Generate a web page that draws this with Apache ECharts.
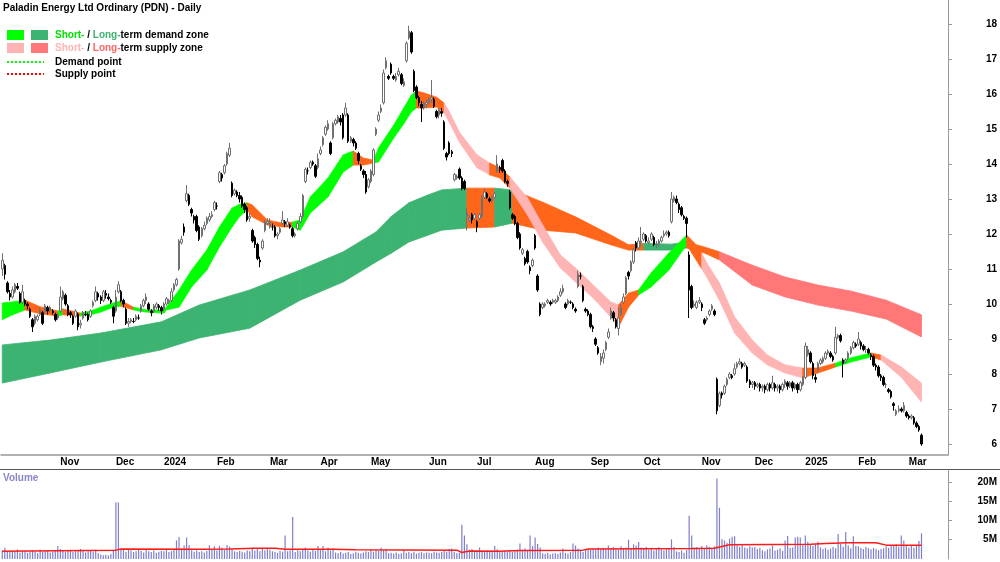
<!DOCTYPE html>
<html>
<head>
<meta charset="utf-8">
<script src="https://cdn.jsdelivr.net/npm/echarts@6/dist/echarts.min.js"></script>
<style>html,body{margin:0;padding:0;background:#fff}#chart{width:1000px;height:562px}</style>
</head>
<body>
<div id="chart"></div>
<script>
// month start slots on the x axis (trading-day index) and their labels
var monthTicks = [[23,'Nov'],[45,'Dec'],[64,'2024'],[85,'Feb'],[106,'Mar'],[126,'Apr'],[146,'May'],[169,'Jun'],[188,'Jul'],[211,'Aug'],[233,'Sep'],[254,'Oct'],[277,'Nov'],[298,'Dec'],[318,'2025'],[339,'Feb'],[359,'Mar']];
var slotCount = 375;
var priceTicks = [6,7,8,9,10,11,12,13,14,15,16,17,18];
var volumeTicks = [5,10,15,20];

// daily candles [open, close, low, high]
var candles = [
[11.0,11.25,10.8,11.45],[11.1,10.85,10.7,11.15],[10.6,10.35,10.3,10.65],[10.3,10.2,10.1,10.4],[10.2,10.4,10.15,10.5],[10.35,10.55,10.3,10.6],[10.5,10.45,10.4,10.6],[10.3,10.05,10.0,10.35],[10.05,10.35,10.0,10.55],[10.1,10.0,9.95,10.15],
[10.0,9.95,9.85,10.05],[9.85,9.65,9.6,9.9],[9.55,9.35,9.2,9.6],[9.45,9.65,9.4,9.7],[9.55,9.65,9.5,9.7],[9.7,9.85,9.65,9.9],[9.75,9.45,9.4,9.8],[9.8,9.95,9.75,10.0],[9.9,9.8,9.7,9.95],[9.8,9.9,9.75,9.95],
[9.8,9.75,9.7,9.85],[9.7,9.55,9.5,9.75],[9.6,9.7,9.55,9.75],[9.8,10.2,9.75,10.5],[10.15,10.35,10.1,10.4],[10.25,10.0,9.95,10.3],[9.95,9.7,9.65,10.0],[9.75,9.7,9.6,9.8],[9.65,9.45,9.4,9.7],[9.65,9.8,9.6,9.85],
[9.7,9.35,9.25,9.75],[9.4,9.45,9.3,9.55],[9.6,9.75,9.55,9.8],[9.7,9.7,9.65,9.8],[9.7,9.55,9.5,9.75],[9.65,9.8,9.6,9.85],[9.95,10.05,9.9,10.1],[10.1,10.35,10.05,10.5],[10.3,10.2,10.1,10.35],[10.2,10.1,10.0,10.25],
[10.1,10.35,10.05,10.4],[10.3,10.25,10.15,10.4],[10.2,10.15,10.1,10.3],[10.1,10.05,10.0,10.15],[9.9,9.65,9.45,9.95],[9.8,10.2,9.75,10.4],[10.35,10.55,10.3,10.65],[10.35,10.1,10.05,10.4],[10.1,10.0,9.9,10.15],[9.85,9.45,9.4,9.9],
[9.45,9.5,9.35,9.6],[9.5,9.55,9.45,9.6],[9.5,9.5,9.45,9.6],[9.55,9.65,9.5,9.7],[9.6,9.6,9.55,9.7],[9.8,9.95,9.75,10.0],[9.95,10.1,9.9,10.15],[10.1,10.2,10.0,10.3],[10.0,9.85,9.8,10.05],[9.8,9.75,9.65,9.85],
[9.8,9.95,9.75,10.0],[9.9,10.0,9.85,10.05],[9.95,9.9,9.8,10.0],[9.9,9.8,9.7,9.95],[9.85,10.0,9.8,10.05],[10.0,10.15,9.95,10.2],[10.05,10.1,10.0,10.15],[10.1,10.35,10.05,10.45],[10.4,10.55,10.35,10.6],[10.55,10.7,10.5,10.75],
[11.0,11.8,10.95,11.85],[11.75,11.85,11.7,11.95],[12.2,12.05,11.95,12.3],[12.95,13.15,12.9,13.4],[13.1,12.85,12.8,13.15],[12.7,12.6,12.5,12.75],[12.5,12.4,12.3,12.55],[12.5,12.1,12.05,12.55],[12.2,11.85,11.8,12.25],[11.95,12.15,11.9,12.2],
[12.15,12.25,12.1,12.35],[12.3,12.45,12.25,12.5],[12.4,12.5,12.35,12.6],[12.5,12.55,12.45,12.65],[12.7,12.9,12.65,12.95],[12.8,12.8,12.7,12.9],[13.5,13.75,13.45,13.8],[13.7,13.6,13.5,13.75],[13.75,13.95,13.7,14.0],[14.0,14.3,13.95,14.35],
[14.25,14.45,14.2,14.6],[13.45,13.1,13.05,13.5],[13.15,13.25,13.1,13.3],[13.2,13.1,13.05,13.25],[13.1,13.0,12.9,13.2],[13.05,12.8,12.75,13.1],[12.85,12.7,12.6,12.9],[12.75,12.4,12.35,12.8],[12.45,12.5,12.35,12.6],[12.1,11.8,11.75,12.15],
[11.9,11.7,11.6,11.95],[11.7,11.3,11.25,11.75],[11.25,11.2,11.05,11.35],[11.6,11.8,11.55,11.85],[12.1,12.35,12.05,12.4],[12.3,12.35,12.25,12.45],[12.2,12.35,12.15,12.45],[12.2,12.2,12.1,12.3],[12.2,11.95,11.9,12.25],[11.95,12.0,11.85,12.05],
[12.05,12.15,12.0,12.2],[12.3,12.4,12.25,12.65],[12.35,12.3,12.2,12.4],[12.25,12.35,12.2,12.45],[12.25,12.2,12.15,12.3],[12.15,11.95,11.9,12.2],[11.95,12.0,11.9,12.05],[12.15,12.3,12.1,12.35],[12.35,12.5,12.3,12.6],[12.5,13.1,12.45,13.15],
[13.5,13.85,13.45,13.9],[13.8,13.8,13.7,13.9],[13.9,14.05,13.85,14.1],[14.05,14.0,13.95,14.1],[13.95,13.65,13.6,14.0],[13.9,14.15,13.85,14.3],[14.3,14.4,14.25,14.5],[14.55,14.75,14.5,14.8],[14.85,15.05,14.8,15.1],[15.0,15.15,14.95,15.25],
[14.6,14.3,14.25,14.65],[14.75,15.15,14.7,15.2],[15.15,15.25,15.1,15.3],[15.2,15.35,15.15,15.4],[15.3,15.2,15.1,15.4],[15.4,14.75,14.7,15.45],[15.4,15.6,15.35,15.75],[15.4,14.65,14.6,15.45],[14.65,14.75,14.6,14.8],[14.7,14.6,14.5,14.75],
[14.6,14.45,14.4,14.65],[14.3,14.1,14.0,14.35],[13.95,13.85,13.8,14.0],[13.8,13.7,13.6,13.85],[13.7,13.2,13.15,13.8],[13.35,13.55,13.3,13.6],[13.5,13.8,13.45,13.85],[13.7,14.4,13.65,14.45],[14.85,15.0,14.8,15.05],[15.25,15.4,15.2,15.5],
[15.5,15.6,15.45,15.7],[15.75,16.6,15.7,16.7],[16.75,16.95,16.7,17.05],[16.5,16.45,16.4,16.55],[16.85,16.6,16.55,16.9],[16.5,16.45,16.4,16.55],[16.4,16.5,16.35,16.6],[16.55,16.65,16.5,16.75],[16.55,16.3,16.25,16.6],[16.25,16.35,16.2,16.45],
[16.95,17.45,16.9,17.5],[17.6,17.8,17.55,17.95],[17.75,17.2,17.15,17.8],[16.65,16.1,16.05,16.7],[16.2,15.9,15.85,16.25],[15.9,15.75,15.65,15.95],[15.7,15.6,15.2,15.8],[15.6,15.75,15.55,15.8],[15.7,15.75,15.6,15.85],[15.75,15.85,15.7,15.9],
[15.85,15.9,15.75,16.4],[15.85,15.65,15.6,15.9],[15.5,15.35,15.3,15.55],[15.4,15.55,15.3,15.6],[15.5,15.45,15.35,15.6],[15.2,14.45,14.4,15.25],[14.3,14.2,14.1,14.35],[14.6,14.3,14.25,14.65],[14.35,14.3,14.2,14.4],[13.55,13.7,13.5,13.75],
[13.6,13.65,13.55,13.7],[13.85,13.6,13.55,13.9],[13.6,13.3,13.25,13.65],[13.5,13.3,13.25,13.55],[12.5,12.6,12.1,12.75],[12.4,12.45,12.35,12.55],[12.55,12.4,12.3,12.6],[12.45,12.55,12.4,12.6],[12.35,12.2,12.05,12.4],[12.45,12.55,12.4,12.6],
[12.5,13.05,12.45,13.1],[13.05,13.2,13.0,13.3],[13.15,13.05,13.0,13.2],[13.0,12.95,12.9,13.05],[12.95,13.05,12.9,13.1],[13.05,13.15,13.0,13.2],[13.8,14.0,13.75,14.25],[13.9,13.85,13.75,13.95],[14.1,13.8,13.75,14.15],[13.8,13.5,13.45,13.85],
[13.5,13.45,13.35,13.55],[13.2,12.75,12.7,13.25],[12.55,12.45,12.4,12.6],[12.5,12.3,12.25,12.55],[12.3,11.9,11.85,12.35],[12.0,11.6,11.55,12.05],[11.45,11.55,11.4,11.6],[11.3,11.15,11.1,11.35],[11.5,11.2,11.15,11.55],[11.05,10.95,10.85,11.1],
[11.1,11.25,11.05,11.3],[11.95,11.6,11.55,12.0],[10.8,10.4,10.35,10.85],[10.0,9.7,9.65,10.05],[9.9,10.0,9.85,10.05],[9.95,10.0,9.9,10.05],[10.05,10.1,10.0,10.15],[10.05,10.0,9.95,10.1],[10.05,10.1,10.0,10.15],[10.05,10.1,10.0,10.15],
[10.1,10.2,10.05,10.25],[10.25,10.35,10.2,10.45],[10.35,10.45,10.3,10.55],[10.0,9.9,9.85,10.05],[10.0,10.1,9.95,10.15],[10.05,10.05,10.0,10.1],[10.0,9.9,9.85,10.05],[9.85,9.8,9.75,9.9],[10.5,10.85,10.45,10.95],[10.8,10.8,10.7,10.9],
[10.5,10.1,10.05,10.55],[9.85,9.8,9.75,9.9],[9.8,9.7,9.65,9.85],[9.7,9.35,9.3,9.75],[9.35,9.3,9.2,9.4],[9.0,8.85,8.8,9.05],[8.75,8.6,8.55,8.8],[8.35,8.5,8.25,8.6],[8.45,8.6,8.3,8.7],[8.7,8.9,8.65,8.95],
[9.05,9.2,9.0,9.3],[9.6,9.8,9.55,9.9],[9.75,9.6,9.5,9.8],[9.55,9.35,9.3,9.6],[9.3,9.6,9.1,9.9],[9.7,9.9,9.65,10.0],[10.05,10.2,10.0,10.3],[10.3,10.75,10.25,10.8],[10.9,10.8,10.7,10.95],[10.95,11.2,10.9,11.25],
[11.2,11.55,11.15,11.6],[11.75,11.6,11.5,11.8],[11.6,11.8,11.55,11.9],[11.75,11.8,11.65,12.2],[11.85,12.0,11.8,12.05],[11.95,11.8,11.75,12.0],[11.75,11.8,11.7,11.9],[11.85,12.0,11.8,12.05],[11.9,11.7,11.65,11.95],[11.7,11.7,11.6,11.8],
[11.7,11.8,11.65,11.85],[11.8,11.9,11.75,11.95],[11.95,12.0,11.9,12.1],[12.0,12.05,11.95,12.1],[12.05,11.95,11.9,12.1],[12.35,13.0,12.3,13.2],[12.95,13.05,12.9,13.1],[13.0,12.9,12.85,13.1],[12.85,12.7,12.6,12.9],[12.75,12.55,12.5,12.8],
[12.5,12.45,12.4,12.55],[12.45,12.3,11.9,12.5],[11.4,10.4,9.6,11.5],[10.5,9.9,9.85,10.55],[9.95,10.0,9.9,10.1],[9.9,10.05,9.85,10.1],[10.05,10.1,10.0,10.2],[10.0,9.9,9.8,10.05],[9.55,9.45,9.4,9.6],[9.55,9.6,9.5,9.65],
[9.7,9.8,9.65,9.85],[9.85,9.95,9.8,10.0],[9.8,9.7,9.65,9.85],[7.85,6.95,6.85,7.9],[7.1,7.45,7.05,7.5],[7.45,7.4,7.3,7.5],[7.45,7.65,7.4,7.7],[7.7,7.85,7.65,7.9],[7.9,8.0,7.85,8.05],[7.95,7.9,7.85,8.0],
[8.0,8.15,7.95,8.3],[8.2,8.3,8.15,8.35],[8.3,8.35,8.25,8.45],[8.3,8.2,8.15,8.35],[8.25,8.3,8.2,8.35],[8.2,7.8,7.75,8.25],[7.8,7.7,7.6,7.85],[7.7,7.75,7.6,7.8],[7.75,7.65,7.55,7.8],[7.65,7.7,7.6,7.75],
[7.7,7.6,7.5,7.75],[7.6,7.65,7.5,7.7],[7.65,7.55,7.45,7.7],[7.55,7.7,7.5,7.75],[7.7,7.6,7.5,7.75],[7.6,7.75,7.55,7.95],[7.7,7.6,7.5,7.75],[7.6,7.65,7.5,7.7],[7.65,7.55,7.45,7.7],[7.55,7.7,7.5,7.75],
[7.7,7.8,7.6,7.85],[7.75,7.65,7.55,7.8],[7.65,7.75,7.6,7.8],[7.75,7.6,7.5,7.8],[7.6,7.7,7.55,7.75],[7.7,7.55,7.45,7.75],[7.55,7.75,7.5,7.8],[7.7,7.9,7.65,7.95],[7.9,8.8,7.85,8.9],[8.55,8.7,8.5,8.8],
[8.6,8.35,8.3,8.65],[8.3,7.95,7.85,8.35],[7.9,7.85,7.75,8.0],[8.1,8.3,8.05,8.35],[8.3,8.4,8.25,8.45],[8.35,8.45,8.3,8.5],[8.45,8.6,8.4,8.65],[8.6,8.65,8.55,8.7],[8.6,8.5,8.45,8.65],[8.5,8.4,8.35,8.55],
[8.6,9.05,8.55,9.35],[9.05,9.1,9.0,9.15],[9.1,8.95,8.9,9.15],[8.4,8.3,7.9,8.45],[8.35,8.4,8.3,8.45],[8.45,8.6,8.4,8.65],[8.6,8.75,8.55,8.8],[8.75,8.9,8.7,8.95],[8.85,8.8,8.75,8.9],[8.85,9.0,8.8,9.2],
[8.9,8.8,8.7,8.95],[8.8,8.7,8.65,8.85],[8.7,8.7,8.6,8.8],[8.7,8.6,8.55,8.75],[8.55,8.5,8.4,8.6],[8.5,8.25,8.2,8.55],[8.25,8.2,8.1,8.3],[8.2,7.95,7.9,8.25],[7.95,7.9,7.8,8.0],[7.9,7.7,7.65,7.95],
[7.7,7.7,7.6,7.75],[7.55,7.5,7.45,7.6],[7.5,7.35,7.3,7.55],[7.15,7.1,6.95,7.2],[6.85,6.95,6.8,7.0],[6.95,7.0,6.9,7.1],[7.0,6.95,6.9,7.05],[6.95,7.1,6.9,7.2],[6.9,6.8,6.75,6.95],[6.8,6.75,6.7,6.85],
[6.75,6.8,6.7,6.85],[6.75,6.6,6.55,6.8],[6.6,6.5,6.45,6.65],[6.5,6.4,6.35,6.55],[6.25,6.0,5.95,6.3]
];

// daily volume, millions of shares
var volumes = [
2.3,2.9,2.0,1.8,2.2,1.9,2.5,1.7,2.0,2.1,1.6,2.0,2.2,1.8,1.5,2.4,1.9,2.0,2.2,1.7,1.9,2.1,3.4,
2.6,2.2,1.9,2.1,2.4,1.8,2.0,2.3,2.6,2.1,1.7,2.0,2.2,1.9,2.4,1.5,1.2,1.0,1.1,0.9,1.3,2.2,
14.7,14.7,2.6,2.3,1.9,2.5,2.2,1.8,2.0,2.6,2.1,1.7,2.4,2.0,1.8,2.2,1.6,1.9,2.1,
2.0,2.3,1.8,2.1,2.4,4.8,5.7,2.7,3.5,5.6,3.6,2.3,1.9,2.2,1.8,2.0,1.7,2.1,3.6,2.4,3.3,
2.2,3.4,3.0,2.3,3.6,3.2,2.5,2.0,1.8,2.1,1.9,1.7,2.2,2.0,3.0,2.2,2.8,2.0,2.7,2.3,2.7,
2.4,2.0,1.8,1.6,2.1,1.9,6.1,2.0,2.2,10.9,1.8,2.3,2.0,2.5,3.0,2.2,1.9,2.4,2.1,3.4,
2.3,3.4,2.0,3.0,2.2,2.8,1.7,1.5,1.9,1.4,1.6,1.8,1.3,1.5,1.9,1.6,1.4,1.7,2.0,1.8,
2.6,1.9,2.4,2.1,3.0,2.2,2.6,1.5,1.6,1.4,1.7,1.3,1.5,2.4,1.6,1.8,1.5,1.9,1.4,1.6,1.8,1.5,1.7,
1.6,1.5,1.9,1.7,1.6,1.8,2.3,1.9,2.6,2.7,1.8,1.5,1.6,8.9,6.1,3.8,2.4,2.6,2.1,
2.2,3.0,2.1,1.9,2.3,2.0,2.2,3.4,2.5,2.0,1.8,2.1,1.9,2.2,1.8,2.0,2.4,4.0,2.1,2.7,2.3,6.1,3.4,
5.6,3.9,3.0,1.5,1.3,1.6,1.2,1.4,1.5,1.3,1.7,2.7,1.6,1.4,1.8,4.0,3.5,2.7,2.2,1.8,2.3,2.6,
2.4,2.8,2.5,3.0,2.6,2.9,2.5,3.5,2.7,3.1,2.6,2.4,3.3,2.8,3.0,5.0,2.6,3.8,3.5,4.4,3.0,
2.6,3.1,2.4,2.9,2.2,2.7,3.1,2.5,2.3,2.8,2.6,5.1,3.1,2.0,1.8,2.2,1.6,2.4,11.2,6.1,2.9,3.1,2.7,
3.4,2.8,3.6,3.2,2.9,3.3,20.9,13.3,5.1,4.8,4.2,5.3,5.8,5.9,3.6,3.2,3.9,3.0,2.8,3.3,3.0,
3.1,2.6,2.9,2.3,2.0,2.5,2.7,3.5,2.2,2.4,2.8,2.1,4.8,6.0,2.9,3.0,5.6,5.8,5.6,3.6,
6.1,4.5,3.8,3.4,3.9,4.5,3.0,2.6,2.9,2.4,2.7,3.1,2.8,6.5,3.9,3.2,7.0,3.5,2.8,5.9,3.4,
3.3,2.9,2.6,3.1,2.8,2.5,2.9,2.6,2.3,2.6,2.8,3.3,2.9,3.4,3.5,3.8,3.2,6.1,4.8,3.4,
3.0,3.6,2.9,3.4,4.7,6.7
];

// volume moving average, read at [slot, millions]
var volumeAvg = [[0,2.0],[45,2.3],[47,2.6],[79,2.5],[90,2.6],[100,2.8],[108,2.8],[112,2.5],[131,2.5],[140,2.4],[180,2.3],[182,1.7],[185,2.1],[197,2.0],[205,2.2],[230,2.3],[232,2.6],[273,2.7],[282,2.8],[288,3.7],[320,3.8],[326,4.0],[335,4.2],[346,4.2],[350,3.6],[364,3.6]];

// zone ribbons: [slot, lower, upper, zone of the stretch that starts here]
var shortBand = [
[0,9.55,10.03,'sd'],[4,9.69,10.06,'sd'],[9,9.83,10.11,'n'],[15,9.72,9.92,'n'],[22,9.66,9.8,'sd'],[24,9.69,9.86,'n'],[31,9.66,9.74,'sd'],[35,9.69,9.8,'sd'],
[39,9.77,9.91,'sd'],[44,9.91,10.03,'sd'],[47,9.94,10.09,'n'],[52,9.83,9.91,'sd'],[57,9.77,9.83,'sd'],[64,9.74,9.83,'sd'],[65,9.83,9.91,'sd'],[70,9.91,10.4,'sd'],
[75,10.49,10.97,'sd'],[81,10.97,11.54,'sd'],[86,11.63,12.2,'sd'],[91,12.2,12.74,'sd'],[94,12.5,12.85,'sd'],[97,12.69,12.89,'n'],[99,12.49,12.83,'n'],[105,12.26,12.4,'n'],[111,12.2,12.31,'n'],
[115,12.2,12.34,'sd'],[118,12.11,12.4,'sd'],[122,12.6,13.06,'sd'],[129,13.06,13.6,'sd'],[135,13.77,14.26,'sd'],[139,13.97,14.37,'n'],[143,13.97,14.17,'n'],[147,14.03,14.11,'sd'],
[149,14.06,14.46,'sd'],[155,14.74,15.11,'sd'],[159,15.15,15.6,'sd'],[162,15.49,15.97,'sd'],[164,15.6,16.09,'n'],[167,15.6,16.03,'n'],[172,15.63,15.91,'n'],[175,15.46,15.74,'ss'],[177,15.2,15.49,'ss'],
[181,14.63,14.91,'ss'],[188,13.89,14.26,'ss'],[193,13.69,14.03,'n'],[197,13.6,13.89,'n'],[201,13.31,13.63,'ss'],[208,12.54,13.03,'ss'],[214,11.77,12.26,'ss'],[221,11.03,11.4,'ss'],
[227,10.63,11.03,'ss'],[234,10.17,10.54,'ss'],[241,9.63,10.06,'ss'],[244,9.34,9.97,'n'],[248,9.91,10.31,'n'],[252,10.26,10.4,'sd'],[257,10.49,10.89,'sd'],[264,10.97,11.46,'sd'],
[271,11.69,11.97,'n'],[274,11.35,11.75,'n'],[277,11.0,11.45,'ss'],[279,10.77,11.17,'ss'],[284,10.11,10.6,'ss'],[290,9.17,9.63,'ss'],[297,8.6,8.97,'ss'],[303,8.26,8.54,'ss'],
[310,8.03,8.26,'ss'],[317,7.89,8.17,'n'],[323,8.03,8.17,'n'],[330,8.2,8.31,'sd'],[336,8.34,8.46,'sd'],[344,8.49,8.6,'n'],[348,8.4,8.54,'ss'],[356,7.91,8.2,'ss'],[364,7.2,7.74,'ss']
];
var longBand = [
[0,7.74,8.83,'ld'],[19,8.03,8.97,'ld'],[39,8.34,9.17,'ld'],[63,8.69,9.49,'ld'],[78,9.03,9.97,'ld'],[98,9.31,10.4,'ld'],[118,10.11,10.97,'ld'],[135,10.63,11.49,'ld'],
[148,11.2,12.06,'ld'],[154,11.45,12.5,'ld'],[161,11.77,12.89,'ld'],[168,11.95,13.1,'ld'],[174,12.11,13.26,'ld'],[184,12.17,13.31,'n'],[195,12.2,13.31,'ld'],[202,12.31,13.26,'n'],[214,12.11,12.91,'n'],[227,12.03,12.49,'n'],
[241,11.69,11.97,'n'],[248,11.54,11.69,'n'],[254,11.54,11.73,'ld'],[265,11.54,11.71,'ld'],[271,11.6,11.77,'n'],[278,11.46,11.63,'n'],[284,11.26,11.49,'ls'],[297,10.54,11.11,'ls'],
[310,10.2,10.77,'ls'],[323,9.97,10.54,'ls'],[336,9.8,10.37,'ls'],[350,9.57,10.11,'ls'],[364,9.06,9.69,'ls']
];

var zoneColors = {sd:'#00ff00', ld:'#3cb371', ss:'#ffb4b4', ls:'#ff7777', n:'#ff661a'};

// one quadrilateral per stretch between two neighbouring knots
function ribbonSeries(name, knots) {
    var data = [];
    for (var k = 0; k < knots.length - 1; k++) {
        var a = knots[k], b = knots[k + 1];
        data.push([a[0], a[1], a[2], b[0], b[1], b[2]]);
    }
    return {
        name: name, type: 'custom', xAxisIndex: 0, yAxisIndex: 0, silent: true, z: 1,
        data: data,
        encode: {x: [0, 3], y: [1, 2, 4, 5]},
        renderItem: function (params, api) {
            var p1 = api.coord([api.value(0), api.value(1)]);
            var p2 = api.coord([api.value(0), api.value(2)]);
            var p3 = api.coord([api.value(3), api.value(5)]);
            var p4 = api.coord([api.value(3), api.value(4)]);
            var col = zoneColors[knots[params.dataIndex][3]];
            return {
                type: 'polygon',
                shape: {points: [p1, p2, p3, p4]},
                style: {fill: col, stroke: col, lineWidth: 0.8}
            };
        }
    };
}

var slots = [];
for (var s = 0; s < slotCount; s++) slots.push(s);
var tickSet = {};
monthTicks.forEach(function (m) { tickSet[m[0]] = m[1]; });

var fontFamily = '"Liberation Sans", Arial, sans-serif';
var boldFont = 'bold 10px ' + fontFamily;

var myChart = echarts.init(document.getElementById('chart'), null, {renderer: 'canvas'});
var option = {
    animation: false,
    backgroundColor: '#fff',
    grid: [
        {left: 1, right: 50, top: 0, height: 455},
        {left: 1, right: 50, top: 470, bottom: 3}
    ],
    xAxis: [
        {
            type: 'category', gridIndex: 0, data: slots, boundaryGap: true,
            axisLine: {lineStyle: {color: '#999', width: 1.5}},
            axisTick: {length: 3, lineStyle: {color: '#999'}, interval: function (i) { return tickSet[i] !== undefined; }},
            axisLabel: {
                interval: function (i) { return tickSet[i] !== undefined; },
                formatter: function (v) { return tickSet[v] || ''; },
                align: 'left', margin: 2,
                fontFamily: fontFamily, fontWeight: 'bold', fontSize: 10, color: '#000'
            },
            splitLine: {show: false}
        },
        {
            type: 'category', gridIndex: 1, data: slots, boundaryGap: true,
            axisLine: {show: false}, axisTick: {show: false}, axisLabel: {show: false}, splitLine: {show: false}
        }
    ],
    yAxis: [
        {
            type: 'value', gridIndex: 0, position: 'right', min: 5.6857, max: 18.6857,
            axisLine: {show: true, lineStyle: {color: '#999'}},
            axisTick: {show: true, length: 4, customValues: priceTicks, lineStyle: {color: '#999'}},
            axisLabel: {customValues: priceTicks, align: 'right', margin: 49,
                fontFamily: fontFamily, fontWeight: 'bold', fontSize: 10, color: '#000'},
            splitLine: {show: false}
        },
        {
            type: 'value', gridIndex: 1, position: 'right', min: 0, max: 23.1,
            axisLine: {show: true, lineStyle: {color: '#999'}},
            axisTick: {show: true, length: 4, customValues: volumeTicks, lineStyle: {color: '#999'}},
            axisLabel: {customValues: volumeTicks, align: 'right', margin: 49,
                formatter: function (v) { return v + 'M'; },
                fontFamily: fontFamily, fontWeight: 'bold', fontSize: 10, color: '#000'},
            splitLine: {show: false}
        }
    ],
    graphic: [
        {type: 'text', left: 3, top: 3, style: {text: 'Paladin Energy Ltd Ordinary (PDN) - Daily', font: boldFont, fill: '#000'}},
        {type: 'rect', shape: {x: 7, y: 30, width: 17, height: 10}, style: {fill: zoneColors.sd}},
        {type: 'rect', shape: {x: 31, y: 30, width: 17, height: 10}, style: {fill: zoneColors.ld}},
        {type: 'rect', shape: {x: 7, y: 43, width: 17, height: 10}, style: {fill: zoneColors.ss}},
        {type: 'rect', shape: {x: 31, y: 43, width: 17, height: 10}, style: {fill: zoneColors.ls}},
        {type: 'line', shape: {x1: 7, y1: 62, x2: 44, y2: 62}, style: {stroke: '#00ff00', lineWidth: 2, lineDash: [2, 2]}},
        {type: 'line', shape: {x1: 7, y1: 74, x2: 44, y2: 74}, style: {stroke: '#ff0000', lineWidth: 2, lineDash: [2, 2]}},
        {type: 'text', left: 55, top: 30, style: {
            text: '{g|Short-}{k| / }{l|Long-}{k|term demand zone}',
            rich: {
                g: {fill: '#00e000', font: boldFont},
                l: {fill: '#3cb371', font: boldFont},
                k: {fill: '#000', font: boldFont}
            }}},
        {type: 'text', left: 55, top: 43, style: {
            text: '{p|Short-}{k| / }{r|Long-}{k|term supply zone}',
            rich: {
                p: {fill: '#ffb4b4', font: boldFont},
                r: {fill: '#ff6666', font: boldFont},
                k: {fill: '#000', font: boldFont}
            }}},
        {type: 'text', left: 55, top: 57, style: {text: 'Demand point', font: boldFont, fill: '#000'}},
        {type: 'text', left: 55, top: 69, style: {text: 'Supply point', font: boldFont, fill: '#000'}},
        {type: 'text', left: 3, top: 473, style: {text: 'Volume', font: boldFont, fill: '#8888c8'}},
        {type: 'rect', shape: {x: 0, y: 469, width: 1000, height: 1}, style: {fill: '#555'}}
    ],
    series: [
        ribbonSeries('long zone', longBand),
        ribbonSeries('short zone', shortBand),
        {
            name: 'PDN', type: 'candlestick', xAxisIndex: 0, yAxisIndex: 0,
            data: candles, barWidth: 2, z: 3,
            itemStyle: {color: '#ffffff', color0: '#000000', borderColor: '#707070', borderColor0: '#000000', borderWidth: 1}
        },
        {
            name: 'Volume', type: 'bar', xAxisIndex: 1, yAxisIndex: 1,
            data: volumes, barWidth: 1.2, itemStyle: {color: '#7f7fcc'}
        },
        {
            name: 'Volume average', type: 'line', xAxisIndex: 1, yAxisIndex: 1,
            data: volumeAvg, showSymbol: false, lineStyle: {color: '#ff1a1a', width: 1.5}, z: 3
        }
    ]
};
myChart.setOption(option);
</script>
</body>
</html>
